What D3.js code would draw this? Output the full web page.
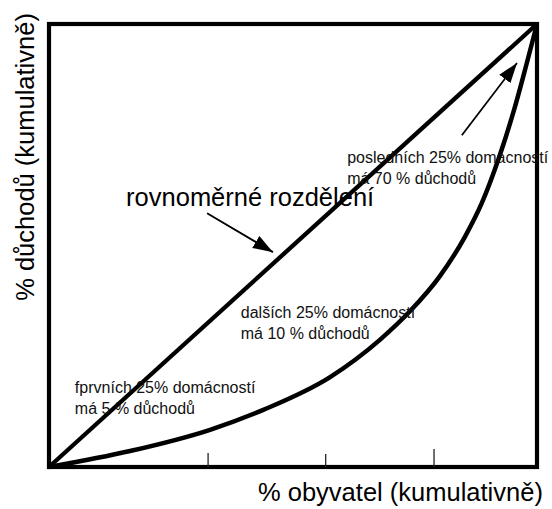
<!DOCTYPE html>
<html><head><meta charset="utf-8">
<script src="https://cdn.jsdelivr.net/npm/d3@7"></script>
<style>body{margin:0;background:#fff}svg{display:block}text{font-family:"Liberation Sans",Arial,sans-serif}</style>
</head><body><svg id="c" width="552" height="509"></svg>
<script>
// ---- data ----
const lorenzX = [0, 16.6, 33.0, 43.9, 57.6, 67.8, 74.0, 80.1, 85.2, 88.7, 92.2, 95.3, 97.7, 100];
const lorenzY = [0, 3.6, 8.4, 12.9, 20.3, 28.7, 35.2, 43.1, 51.9, 59.6, 69.8, 80.6, 90.3, 100];
const equalX = [0, 100];
const equalY = [0, 100];
const tickValues = [32.6, 56.7, 78.9];
const xTitle = "% obyvatel (kumulativně)";
const yTitle = "% důchodů (kumulativně)";
const equalLabel = "rovnoměrné rozdělení";
const groupLabels = [
  ["fprvních 25% domácností", "má 5 % důchodů"],
  ["dalších 25% domácností", "má 10 % důchodů"],
  ["posledních 25% domácností", "má 70 % důchodů"]
];

// ---- layout ----
const mLeft = 49, mRight = 537, mTop = 24, mBottom = 467;
const x = d3.scaleLinear().domain([0, 100]).range([mLeft, mRight]);
const y = d3.scaleLinear().domain([0, 100]).range([mBottom, mTop]);
const svg = d3.select("#c");

const defs = svg.append("defs");
defs.append("marker").attr("id", "ah").attr("viewBox", "0 0 20 14")
  .attr("refX", 20).attr("refY", 7).attr("markerWidth", 20).attr("markerHeight", 14)
  .attr("markerUnits", "userSpaceOnUse").attr("orient", "auto")
  .append("path").attr("d", "M0,0 L20,7 L0,14 Z").attr("fill", "#000");

// frame
svg.append("rect").attr("x", mLeft).attr("y", mTop)
  .attr("width", mRight - mLeft).attr("height", mBottom - mTop)
  .attr("fill", "none").attr("stroke", "#000").attr("stroke-width", 4.2);

// ticks
svg.append("g").selectAll("line").data(tickValues).join("line")
  .attr("x1", d => x(d)).attr("x2", d => x(d))
  .attr("y1", mBottom).attr("y2", (d, i) => mBottom - [14, 13, 18][i])
  .attr("stroke", "#222").attr("stroke-width", 1.3);

// equal distribution line
const line = d3.line().x(d => x(d[0])).y(d => y(d[1]));
svg.append("path").datum(d3.zip(equalX, equalY)).attr("d", line)
  .attr("fill", "none").attr("stroke", "#000").attr("stroke-width", 4.3);

// Lorenz curve
svg.append("path").datum(d3.zip(lorenzX, lorenzY))
  .attr("d", line.curve(d3.curveMonotoneX))
  .attr("fill", "none").attr("stroke", "#000").attr("stroke-width", 4.5)
  .attr("stroke-linejoin", "round");

// arrows (in data coordinates)
const arrows = [[32.4, 57.3, 45.9, 48.5], [84.6, 74.9, 95.9, 91.2]];
svg.append("g").selectAll("line").data(arrows).join("line")
  .attr("x1", d => x(d[0])).attr("y1", d => y(d[1]))
  .attr("x2", d => x(d[2])).attr("y2", d => y(d[3]))
  .attr("stroke", "#000").attr("stroke-width", 1.8)
  .attr("marker-end", "url(#ah)");

// labels
svg.append("text").attr("x", x(15.8)).attr("y", y(58.9))
  .attr("font-size", 25.5).attr("fill", "#000").text(equalLabel);

const labelPos = [[5.3, 16.7], [39.3, 33.6], [61.1, 68.6]];
groupLabels.forEach((lines, i) => {
  const t = svg.append("text").attr("font-size", 16).attr("fill", "#111");
  lines.forEach((s, j) => t.append("tspan")
    .attr("x", x(labelPos[i][0])).attr("y", y(labelPos[i][1]) + j * 21).text(s));
});

svg.append("text").attr("x", 258).attr("y", 501)
  .attr("font-size", 25.5).attr("fill", "#000").text(xTitle);
svg.append("text").attr("transform", "translate(34,157) rotate(-90)")
  .attr("text-anchor", "middle").attr("font-size", 25.5).attr("fill", "#000").text(yTitle);
</script></body></html>
